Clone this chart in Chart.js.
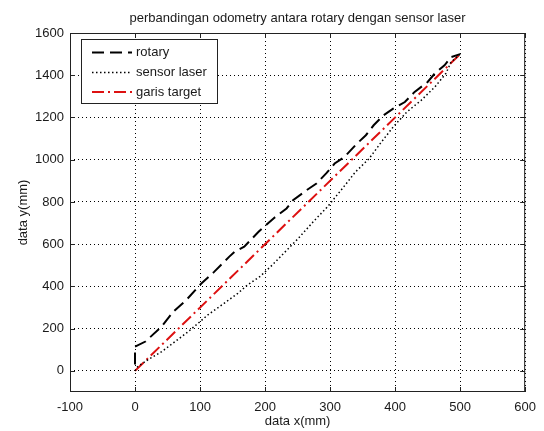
<!DOCTYPE html>
<html>
<head>
<meta charset="utf-8">
<script src="https://cdn.jsdelivr.net/npm/chart.js"></script>
<style>
  html, body { margin: 0; padding: 0; background: #fff; }
  #wrap { width: 544px; height: 431px; }
</style>
</head>
<body>
<div id="wrap"><canvas id="grafico" width="544" height="431"></canvas></div>
<script>
// data odometry (mm)
const rotaryX = [0, 0, 16, 41, 59, 79, 102, 122, 145, 153, 168, 190, 213, 233, 243, 264, 279, 294, 307, 322, 339, 355, 367, 382, 397, 415, 430, 450, 461, 476, 486, 500];
const rotaryY = [30, 115, 139, 210, 281, 336, 414, 470, 541, 564, 588, 659, 722, 769, 808, 856, 887, 935, 982, 1013, 1069, 1116, 1163, 1210, 1242, 1273, 1321, 1368, 1408, 1447, 1486, 1500];

const laserX = [0, 4, 21, 41, 82, 112, 137, 158, 173, 193, 211, 251, 274, 296, 319, 339, 360, 377, 397, 418, 440, 461, 478, 486, 500];
const laserY = [0, 20, 55, 91, 186, 265, 320, 367, 407, 449, 501, 627, 706, 777, 864, 942, 1005, 1076, 1155, 1226, 1281, 1344, 1408, 1462, 1500];

const targetX = [0, 500];
const targetY = [0, 1500];

const xTicks = [-100, 0, 100, 200, 300, 400, 500, 600];
const yTicks = [0, 200, 400, 600, 800, 1000, 1200, 1400, 1600];

const judul = 'perbandingan odometry antara rotary dengan sensor laser';
const labelX = 'data x(mm)';
const labelY = 'data y(mm)';

const huruf = { family: '"Liberation Sans", Arial, sans-serif', size: 13 };
const warnaTeks = '#1a1a1a';

function gabungkan(xs, ys) {
  return xs.map((x, i) => ({ x: x, y: ys[i] }));
}

// kotak sumbu, garis tick ke dalam, judul dan legenda
const pluginMatlab = {
  id: 'gayaMatlab',
  afterDraw(chart) {
    const ctx = chart.ctx;
    const a = chart.chartArea;
    const sx = chart.scales.x;
    const sy = chart.scales.y;
    ctx.save();
    ctx.setLineDash([]);
    ctx.strokeStyle = '#222';
    ctx.lineWidth = 1;
    ctx.strokeRect(a.left + 0.5, a.top + 0.5, a.right - a.left - 1, a.bottom - a.top - 1);

    const pjg = 5;
    ctx.beginPath();
    xTicks.forEach(v => {
      const px = Math.round(sx.getPixelForValue(v)) + 0.5;
      ctx.moveTo(px, a.bottom); ctx.lineTo(px, a.bottom - pjg);
      ctx.moveTo(px, a.top); ctx.lineTo(px, a.top + pjg);
    });
    yTicks.forEach(v => {
      const py = Math.round(sy.getPixelForValue(v)) + 0.5;
      ctx.moveTo(a.left, py); ctx.lineTo(a.left + pjg, py);
      ctx.moveTo(a.right, py); ctx.lineTo(a.right - pjg, py);
    });
    ctx.stroke();

    // judul
    ctx.fillStyle = warnaTeks;
    ctx.font = huruf.size + 'px ' + huruf.family;
    ctx.textAlign = 'center';
    ctx.textBaseline = 'middle';
    ctx.fillText(judul, (a.left + a.right) / 2, 18);

    // legenda
    const lx = a.left + 11, ly = a.top + 6, lw = 136, lh = 64;
    ctx.fillStyle = '#fff';
    ctx.fillRect(lx, ly, lw, lh);
    ctx.strokeStyle = '#222';
    ctx.lineWidth = 1;
    ctx.strokeRect(lx + 0.5, ly + 0.5, lw, lh);
    const barisY = [13.5, 33.5, 53];
    chart.data.datasets.forEach((ds, i) => {
      const yy = ly + barisY[i];
      ctx.beginPath();
      ctx.setLineDash(ds.borderDash || []);
      ctx.strokeStyle = ds.borderColor;
      ctx.lineWidth = ds.borderWidth;
      ctx.moveTo(lx + 11, yy);
      ctx.lineTo(lx + 51, yy);
      ctx.stroke();
      ctx.setLineDash([]);
      ctx.fillStyle = warnaTeks;
      ctx.textAlign = 'left';
      ctx.fillText(ds.label, lx + 55, yy);
    });
    ctx.restore();
  }
};

const ctx = document.getElementById('grafico').getContext('2d');
new Chart(ctx, {
  type: 'line',
  data: {
    datasets: [
      {
        label: 'rotary',
        data: gabungkan(rotaryX, rotaryY),
        borderColor: '#000',
        borderWidth: 2,
        borderDash: [12, 6],
        pointRadius: 0,
        fill: false,
        tension: 0
      },
      {
        label: 'sensor laser',
        data: gabungkan(laserX, laserY),
        borderColor: '#000',
        borderWidth: 1.5,
        borderDash: [1.5, 2.5],
        pointRadius: 0,
        fill: false,
        tension: 0
      },
      {
        label: 'garis target',
        data: gabungkan(targetX, targetY),
        borderColor: '#dd1111',
        borderWidth: 2,
        borderDash: [12, 4, 2, 4],
        pointRadius: 0,
        fill: false,
        tension: 0
      }
    ]
  },
  options: {
    responsive: false,
    animation: false,
    layout: { padding: { top: 33, right: 14, left: 0, bottom: 0 } },
    plugins: {
      legend: { display: false },
      title: { display: false },
      tooltip: { enabled: false }
    },
    scales: {
      x: {
        type: 'linear',
        min: -100,
        max: 600,
        afterBuildTicks: s => { s.ticks = xTicks.map(v => ({ value: v })); },
        afterFit: s => { s.height = 39; },
        grid: { color: '#000', lineWidth: 1, drawTicks: false },
        border: { display: false, dash: [1, 3] },
        ticks: { padding: 8, color: warnaTeks, font: huruf, maxRotation: 0, callback: v => String(v) },
        title: { display: true, text: labelX, color: warnaTeks, font: huruf, padding: { top: 0, bottom: 2 } }
      },
      y: {
        type: 'linear',
        min: -100,
        max: 1600,
        afterBuildTicks: s => { s.ticks = yTicks.map(v => ({ value: v })); },
        afterFit: s => { s.width = 70; },
        grid: { color: '#000', lineWidth: 1, drawTicks: false },
        border: { display: false, dash: [1, 3] },
        ticks: { padding: 6, color: warnaTeks, font: huruf, callback: v => String(v) },
        title: { display: true, text: labelY, color: warnaTeks, font: huruf, padding: { top: 16, bottom: 0 } }
      }
    }
  },
  plugins: [pluginMatlab]
});
</script>
</body>
</html>
